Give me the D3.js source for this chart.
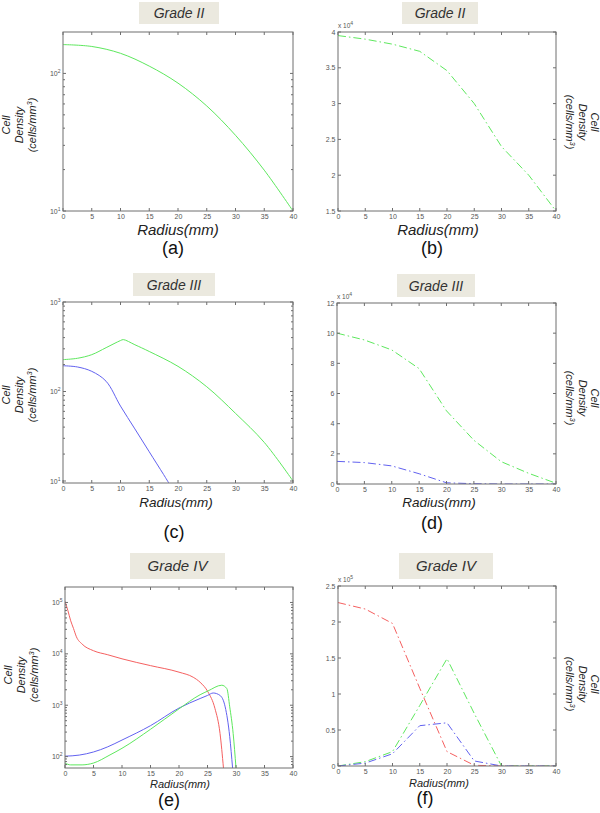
<!DOCTYPE html>
<html><head><meta charset="utf-8">
<script src="https://cdn.jsdelivr.net/npm/d3@7"></script>
<style>body{margin:0;background:#fff} svg{display:block} text{font-family:"Liberation Sans",Arial,sans-serif}</style>
</head><body><svg id="chart" width="600" height="813"></svg>
<script>
// ---------------- DATA ----------------
const radiusTicks = [0,5,10,15,20,25,30,35,40];
const radius5 = [0,5,10,15,20,25,30,35,40];

// (a) Grade II, log scale
const aR = [0,5,10,15,20,25,30,35,40];
const aGreen = [162,157,140,113,85,58,35.5,19.8,10];

// (b) Grade II, linear (x10^4)
const bGreen = [39500,39000,38300,37300,34600,30000,24000,20000,15000];

// (c) Grade III, log
const cGreenR = [0,2.5,5,7.5,10,10.5,12.5,15,20,25,30,35,40];
const cGreen  = [227,235,258,309,371,380,333,280,191,113,57,27,10];
const cBlueR  = [0,2.5,5,7.5,10,12.5,15,17.5,18.4];
const cBlue   = [194,188,168,130,68.7,38.2,21.2,11.8,9.5];

// (d) Grade III, linear (x10^4)
const dGreen = [100000,95500,88900,76500,48500,29000,14800,7100,500];
const dBlue  = [15000,14200,12000,6800,800,200,0,0,0];

// (e) Grade IV, log
const eRedR  = [0,0.5,1,1.5,2,3,5,7.5,10,15,20,22.5,23.7,25.1,26.3,27.2,27.8];
const eRed   = [105000,70000,44000,31000,21500,15500,11500,9600,8000,5900,4400,3500,2800,1800,870,282,60];
const eBlueR = [0,2.5,5,7.5,10,15,20,23.7,25,26,27.2,28.1,28.9,29.4];
const eBlue  = [102,107,123,155,210,400,880,1350,1550,1730,1550,930,244,60];
const eGreenR= [0,1,3,5,7.9,10,15,20,23.7,25.1,27.5,28.4,28.9,29.5,30];
const eGreen = [75,69,69,75,108,145,340,850,1600,1900,2450,2100,930,283,60];

// (f) Grade IV, linear (x10^5)
const fRed   = [227000,218000,198000,108000,20000,1000,0,0,0];
const fGreen = [0,6000,20000,84000,149000,73000,0,0,0];
const fBlue  = [0,4000,17000,56000,60000,7000,0,0,0];

// tick labels
const bTicks = [15000,20000,25000,30000,35000,40000];
const dTicks = [0,20000,40000,60000,80000,100000,120000];
const fTicks = [0,50000,100000,150000,200000,250000];

// ---------------- DRAW ----------------
const svg = d3.select('#chart');
const GREEN = '#5ee85e', BLUE = '#6262f0', RED = '#f56060';
const DASH = '8,3,1.5,3';
const FRAME = '#6e6e6e', TICKTXT = '#555';
let clipId = 0;

function pairs(rs, vs){ return rs.map((r,i)=>({r, v: vs[i]})); }

function drawPanel(cfg){
  const g = svg.append('g');
  const x = d3.scaleLinear().domain([0,40]).range([cfg.x0, cfg.x1]);
  const y = (cfg.log ? d3.scaleLog() : d3.scaleLinear()).domain(cfg.yDomain).range([cfg.y1, cfg.y0]);

  // title box
  const tb = cfg.titleBox;
  g.append('rect').attr('x',tb[0]).attr('y',tb[1]).attr('width',tb[2]).attr('height',tb[3]).attr('fill','#ebe9df');
  g.append('text').attr('x',tb[0]+tb[2]/2).attr('y',tb[1]+tb[3]/2+cfg.titleSize*0.36)
    .attr('text-anchor','middle').attr('font-style','italic').attr('font-size',cfg.titleSize).attr('fill','#333')
    .text(cfg.title);

  // clip
  const id = 'clip' + (clipId++);
  svg.append('clipPath').attr('id', id).append('rect')
    .attr('x', cfg.x0).attr('y', cfg.y0).attr('width', cfg.x1-cfg.x0).attr('height', cfg.y1-cfg.y0);

  // series
  const line = d3.line().x(d=>x(d.r)).y(d=>y(d.v)).curve(cfg.curve || d3.curveLinear);
  const lg = g.append('g').attr('clip-path', `url(#${id})`);
  cfg.series.forEach(s=>{
    lg.append('path').attr('d', line(pairs(s.r, s.v))).attr('fill','none')
      .attr('stroke', s.color).attr('stroke-width', 1)
      .attr('stroke-dasharray', s.dash || null).attr('stroke-linejoin','round');
  });

  // frame
  g.append('rect').attr('x',cfg.x0).attr('y',cfg.y0).attr('width',cfg.x1-cfg.x0).attr('height',cfg.y1-cfg.y0)
    .attr('fill','none').attr('stroke',FRAME).attr('stroke-width',1);

  // x ticks (bottom & top, inward)
  const xAxisB = d3.axisBottom(x).tickValues(radiusTicks).tickSize(0).tickPadding(3);
  const gx = g.append('g').attr('transform',`translate(0,${cfg.y1})`).call(xAxisB);
  gx.select('.domain').remove();
  gx.selectAll('text').attr('font-size',7).attr('fill',TICKTXT).attr('font-family','"Liberation Sans",Arial,sans-serif');
  radiusTicks.forEach(t=>{
    g.append('line').attr('x1',x(t)).attr('x2',x(t)).attr('y1',cfg.y1).attr('y2',cfg.y1-3).attr('stroke',FRAME);
    g.append('line').attr('x1',x(t)).attr('x2',x(t)).attr('y1',cfg.y0).attr('y2',cfg.y0+3).attr('stroke',FRAME);
  });

  // y ticks
  cfg.yTicks.forEach(t=>{
    g.append('line').attr('x1',cfg.x0).attr('x2',cfg.x0+3).attr('y1',y(t)).attr('y2',y(t)).attr('stroke',FRAME);
    g.append('line').attr('x1',cfg.x1).attr('x2',cfg.x1-3).attr('y1',y(t)).attr('y2',y(t)).attr('stroke',FRAME);
    const tx = g.append('text').attr('x',cfg.x0-2.5).attr('y',y(t)+2.5).attr('text-anchor','end')
      .attr('font-size',7).attr('fill',TICKTXT);
    if (cfg.log){
      tx.append('tspan').text('10');
      tx.append('tspan').attr('dy',-3).attr('font-size',5).text(Math.round(Math.log10(t)));
    } else {
      tx.text(cfg.fmt(t));
    }
  });
  (cfg.minor||[]).forEach(t=>{
    g.append('line').attr('x1',cfg.x0).attr('x2',cfg.x0+2).attr('y1',y(t)).attr('y2',y(t)).attr('stroke',FRAME);
    g.append('line').attr('x1',cfg.x1).attr('x2',cfg.x1-2).attr('y1',y(t)).attr('y2',y(t)).attr('stroke',FRAME);
  });

  // multiplier
  if (cfg.mult){
    const m = g.append('text').attr('x',cfg.x0).attr('y',cfg.y0-4).attr('font-size',6.5).attr('fill',TICKTXT);
    m.append('tspan').text('x 10');
    m.append('tspan').attr('dy',-3).attr('font-size',5).text(cfg.mult);
  }

  // x label
  g.append('text').attr('x',cfg.xl[0]).attr('y',cfg.xl[1]).attr('text-anchor','middle')
    .attr('font-style','italic').attr('font-size',cfg.xl[2]).attr('fill','#222').text('Radius(mm)');
  // panel label
  g.append('text').attr('x',cfg.pl[0]).attr('y',cfg.pl[1]).attr('text-anchor','middle')
    .attr('font-size',18).attr('fill','#111').text(cfg.pl[2]);

  // y label (three lines)
  const yl = cfg.yl; // [baselineX, centerY, side]
  const rot = yl[2]==='left' ? -90 : 90;
  const t = g.append('text').attr('transform',`translate(${yl[0]},${yl[1]}) rotate(${rot})`)
    .attr('text-anchor','middle').attr('font-style','italic').attr('font-size',11).attr('fill','#222');
  t.append('tspan').attr('x',0).attr('dy',0).text('Cell');
  t.append('tspan').attr('x',0).attr('dy',12.5).text('Density');
  t.append('tspan').attr('x',0).attr('dy',13).text('(cells/mm');
  t.append('tspan').attr('dy',-4).attr('font-size',7).text('3');
  t.append('tspan').attr('dy',4).text(')');
}

function logMinor(lo, hi){
  const out=[];
  for(let d=1; d<=1e5; d*=10) for(let k=2;k<=9;k++){ const v=k*d; if(v>lo && v<hi) out.push(v); }
  return out;
}

const fmt = s => v => { const n=v/s; return String(+n.toFixed(2)); };
const smooth = d3.curveCatmullRom.alpha(0.5);

drawPanel({x0:63,x1:293,y0:32,y1:211,log:true,yDomain:[10,200],yTicks:[10,100],minor:logMinor(10,200),
  series:[{r:aR,v:aGreen,color:GREEN}], curve:smooth,
  title:'Grade II', titleBox:[139,2,80,22], titleSize:14,
  xl:[178,235,15], pl:[173,254,'(a)'], yl:[10,125,'left']});

drawPanel({x0:338,x1:556,y0:32,y1:211,log:false,yDomain:[15000,40000],yTicks:bTicks,fmt:fmt(1e4),mult:'4',
  series:[{r:radius5,v:bGreen,color:GREEN,dash:DASH}],
  title:'Grade II', titleBox:[402,2,76,22], titleSize:14,
  xl:[438,235,15], pl:[432,254,'(b)'], yl:[591,122,'right']});

drawPanel({x0:63,x1:293,y0:302,y1:483,log:true,yDomain:[9.5,1000],yTicks:[10,100,1000],minor:logMinor(9.5,1000),
  series:[{r:cGreenR,v:cGreen,color:GREEN},{r:cBlueR,v:cBlue,color:BLUE}], curve:smooth,
  title:'Grade III', titleBox:[133,273,82,23], titleSize:14,
  xl:[176,507,13.5], pl:[174,538,'(c)'], yl:[10,395,'left']});

drawPanel({x0:337,x1:556,y0:303,y1:484,log:false,yDomain:[0,120000],yTicks:dTicks,fmt:fmt(1e4),mult:'4',
  series:[{r:radius5,v:dGreen,color:GREEN,dash:DASH},{r:radius5,v:dBlue,color:BLUE,dash:DASH}],
  title:'Grade III', titleBox:[397,274,78,23], titleSize:14,
  xl:[439,507,13.5], pl:[432,529,'(d)'], yl:[591,398,'right']});

drawPanel({x0:65,x1:293,y0:587,y1:768,log:true,yDomain:[60,200000],yTicks:[100,1000,10000,100000],minor:logMinor(60,200000),
  series:[{r:eRedR,v:eRed,color:RED},{r:eBlueR,v:eBlue,color:BLUE},{r:eGreenR,v:eGreen,color:GREEN}], curve:d3.curveMonotoneX,
  title:'Grade IV', titleBox:[130,553,95,26], titleSize:15,
  xl:[180,788,11], pl:[169,806,'(e)'], yl:[12,675,'left']});

drawPanel({x0:338,x1:556,y0:586,y1:766,log:false,yDomain:[0,250000],yTicks:fTicks,fmt:fmt(1e5),mult:'5',
  series:[{r:radius5,v:fRed,color:RED,dash:DASH},{r:radius5,v:fGreen,color:GREEN,dash:DASH},{r:radius5,v:fBlue,color:BLUE,dash:DASH}],
  title:'Grade IV', titleBox:[399,553,94,26], titleSize:15,
  xl:[439,787,11], pl:[425,804,'(f)'], yl:[591,684,'right']});
</script></body></html>
